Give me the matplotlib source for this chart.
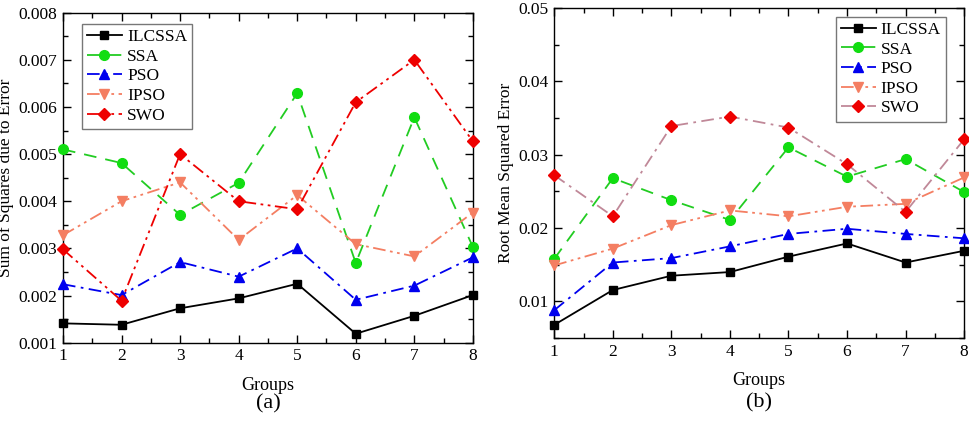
import numpy as np
import matplotlib.pyplot as plt
from matplotlib.ticker import MultipleLocator, FormatStrFormatter

plt.rcParams['font.family'] = ['Liberation Serif', 'DejaVu Serif']

groups = [1, 2, 3, 4, 5, 6, 7, 8]
names = ['ILCSSA', 'SSA', 'PSO', 'IPSO', 'SWO']

# (a) Sum of Squares due to Error
sse_ilcssa = [0.00141, 0.00138, 0.00173, 0.00194, 0.00225, 0.00119, 0.00157, 0.00201]
sse_ssa = [0.00510, 0.00481, 0.00371, 0.00439, 0.00629, 0.00269, 0.00578, 0.00303]
sse_pso = [0.00224, 0.00201, 0.00271, 0.00240, 0.00300, 0.00191, 0.00221, 0.00281]
sse_ipso = [0.00328, 0.00400, 0.00440, 0.00318, 0.00413, 0.00309, 0.00283, 0.00376]
sse_swo = [0.00298, 0.00189, 0.00500, 0.00400, 0.00383, 0.00610, 0.00700, 0.00527]

# (b) Root Mean Squared Error
rmse_ilcssa = [0.0068, 0.01155, 0.0135, 0.0140, 0.0161, 0.0179, 0.0153, 0.0169]
rmse_ssa = [0.0158, 0.0268, 0.0238, 0.0211, 0.0310, 0.0270, 0.0294, 0.0249]
rmse_pso = [0.0088, 0.0153, 0.0159, 0.0175, 0.0192, 0.0199, 0.0192, 0.0186]
rmse_ipso = [0.0149, 0.0172, 0.0204, 0.0224, 0.0216, 0.0229, 0.0233, 0.0269]
rmse_swo = [0.0272, 0.0216, 0.0339, 0.0352, 0.0337, 0.0287, 0.0222, 0.0321]

dash_dot_dot = (0, (7, 2.5, 1.5, 2.5, 1.5, 2.5))
dash_dot = (0, (7, 3, 1.5, 3))

styles = [
    dict(color='black', ls='-', marker='s', mfc='black', mec='black', ms=6),
    dict(color='#22CC22', ls=(0, (7, 5)), marker='o', mfc='#11DD11', mec='#11DD11', ms=7),
    dict(color='#0000EE', ls=dash_dot, marker='^', mfc='#0000EE', mec='#0000EE', ms=7),
    dict(color='#F47E62', ls=dash_dot_dot, marker='v', mfc='#F47E62', mec='#F47E62', ms=7),
    dict(color='#EE0000', ls=dash_dot_dot, marker='D', mfc='#EE0000', mec='#EE0000', ms=6),
]


def style_axes(ax, ylim, ymajor, yminor, fmt, ylabel, tag, tag_y):
    ax.set_xlim(1, 8)
    ax.set_ylim(*ylim)
    ax.xaxis.set_major_locator(MultipleLocator(1))
    ax.xaxis.set_minor_locator(MultipleLocator(0.5))
    ax.yaxis.set_major_locator(MultipleLocator(ymajor))
    ax.yaxis.set_minor_locator(MultipleLocator(yminor))
    ax.yaxis.set_major_formatter(FormatStrFormatter(fmt))
    ax.tick_params(which='both', direction='in', top=True, right=True, width=1)
    ax.tick_params(which='major', length=6, labelsize=12.5, pad=4)
    ax.tick_params(which='minor', length=3.5)
    for sp in ax.spines.values():
        sp.set_linewidth(1)
    ax.set_ylabel(ylabel, fontsize=12.5, labelpad=3)
    ax.set_xlabel('Groups', fontsize=13, labelpad=9)
    ax.text(0.5, tag_y, tag, transform=ax.transAxes, ha='center', va='center',
            fontsize=16)


def add_legend(ax, loc, anchor):
    leg = ax.legend(loc=loc, bbox_to_anchor=anchor, fontsize=12.5,
                    fancybox=False, edgecolor='#555555', handlelength=2.0,
                    borderpad=0.3, labelspacing=0.2, handletextpad=0.3,
                    borderaxespad=0)
    leg.get_frame().set_linewidth(1)


fig = plt.figure(figsize=(9.69, 4.21), dpi=100)

ax1 = fig.add_axes([0.065, 0.186, 0.423, 0.784])
for name, y, st in zip(names, [sse_ilcssa, sse_ssa, sse_pso, sse_ipso, sse_swo], styles):
    ax1.plot(groups, y, label=name, lw=1.3, clip_on=False, zorder=3, **st)
style_axes(ax1, (0.001, 0.008), 0.001, 0.0005, '%.3f', 'Sum of Squares due to Error', '(a)', -0.185)
add_legend(ax1, 'upper left', (0.046, 0.966))

ax2 = fig.add_axes([0.572, 0.197, 0.423, 0.784])
styles_b = [dict(s) for s in styles]
styles_b[4]['color'] = '#C08898'
styles_b[4]['ls'] = dash_dot
for name, y, st in zip(names, [rmse_ilcssa, rmse_ssa, rmse_pso, rmse_ipso, rmse_swo], styles_b):
    ax2.plot(groups, y, label=name, lw=1.3, clip_on=False, zorder=3, **st)
style_axes(ax2, (0.005, 0.05), 0.01, 0.005, '%.2f', 'Root Mean Squared Error', '(b)', -0.195)
add_legend(ax2, 'upper right', (0.956, 0.974))

fig.savefig('out.png', dpi=100)
